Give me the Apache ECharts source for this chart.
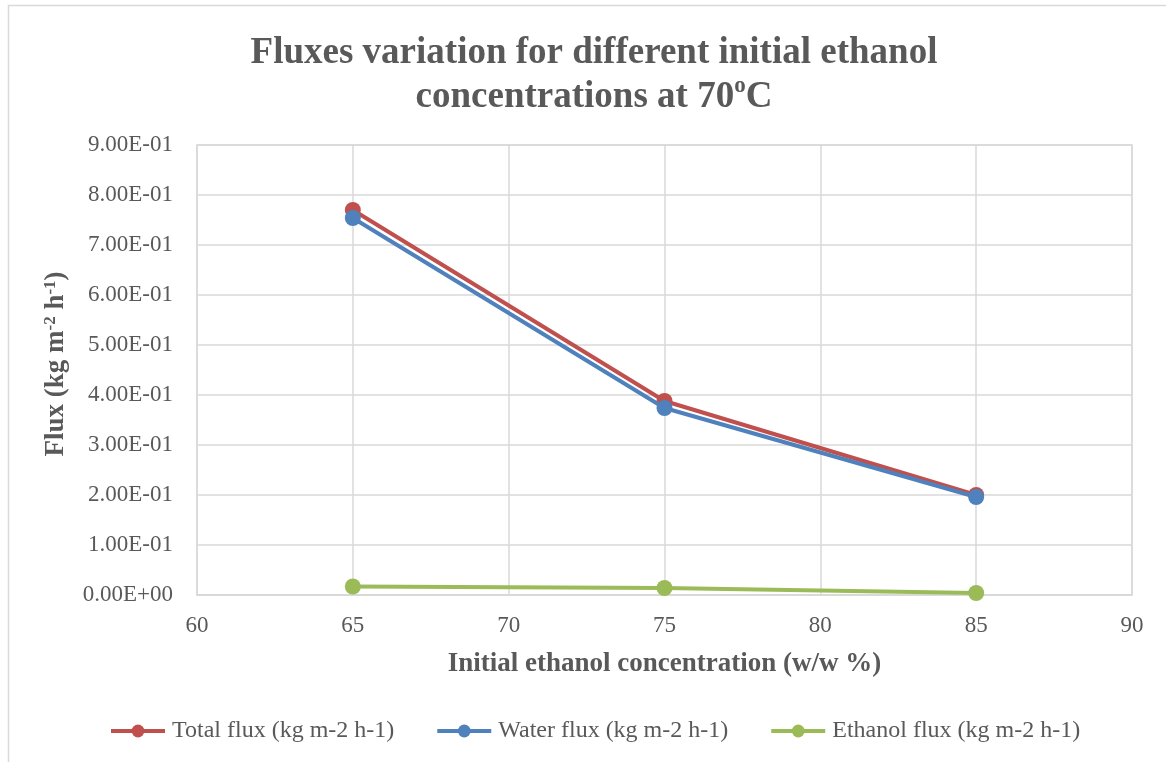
<!DOCTYPE html>
<html>
<head>
<meta charset="utf-8">
<script src="https://cdn.jsdelivr.net/npm/echarts@6/dist/echarts.min.js"></script>
<style>
  html, body { margin: 0; padding: 0; background: #fff; }
  #chart { width: 1166px; height: 762px; }
</style>
</head>
<body>
<div id="chart"></div>
<script>
// Initial ethanol concentration (w/w %)
const concentrations = [65, 75, 85];
// Fluxes in kg m-2 h-1
const totalFlux = [0.770, 0.388, 0.200];
const waterFlux = [0.754, 0.374, 0.196];
const ethanolFlux = [0.017, 0.014, 0.004];
const seriesNames = ['Total flux (kg m-2 h-1)', 'Water flux (kg m-2 h-1)', 'Ethanol flux (kg m-2 h-1)'];
const colors = ['#C0504D', '#4F81BD', '#9BBB59'];

const FONT = '"Liberation Serif", "Times New Roman", serif';
const TEXT = '#595959';
const GRID = '#d9d9d9';

function pairs(vals) {
  return concentrations.map((c, i) => [c, vals[i]]);
}

function makeSeries(name, vals, color, z) {
  return {
    name: name,
    type: 'line',
    data: pairs(vals),
    symbol: 'circle',
    symbolSize: 16,
    z: z,
    lineStyle: { width: 4, color: color },
    itemStyle: { color: color },
    emphasis: { disabled: true }
  };
}

// Excel-style scientific notation, e.g. 7.00E-01
function sci(v) {
  if (v === 0) return '0.00E+00';
  const e = Math.floor(Math.log10(v) + 1e-9);
  const m = v / Math.pow(10, e);
  const sign = e < 0 ? '-' : '+';
  const ae = Math.abs(e);
  return m.toFixed(2) + 'E' + sign + (ae < 10 ? '0' + ae : ae);
}

const chart = echarts.init(document.getElementById('chart'));
chart.setOption({
  animation: false,
  color: colors,
  textStyle: { fontFamily: FONT },
  graphic: [{
    type: 'rect',
    shape: { x: 8.5, y: 5.5, width: 1200, height: 800 },
    style: { fill: 'none', stroke: GRID, lineWidth: 1.5 },
    silent: true,
    z: -1
  }],
  title: {
    text: 'Fluxes variation for different initial ethanol\nconcentrations at 70{sup|o}C',
    left: 589,
    textAlign: 'center',
    top: 26,
    textStyle: {
      fontFamily: FONT,
      fontSize: 37,
      fontWeight: 'bold',
      color: TEXT,
      lineHeight: 44,
      rich: {
        sup: {
          fontFamily: FONT,
          fontSize: 23,
          fontWeight: 'bold',
          color: TEXT,
          verticalAlign: 'top',
          padding: [0, 0, 15, 0]
        }
      }
    }
  },
  legend: {
    top: 714,
    left: 104,
    itemGap: 41,
    itemWidth: 54,
    itemHeight: 16,
    data: seriesNames,
    lineStyle: { width: 4 },
    textStyle: { fontFamily: FONT, fontSize: 24, color: TEXT, padding: [0, 0, 0, 2] }
  },
  grid: {
    left: 197,
    right: 34,
    top: 145,
    bottom: 167,
    show: true,
    borderColor: GRID,
    borderWidth: 1.5
  },
  xAxis: {
    type: 'value',
    min: 60,
    max: 90,
    interval: 5,
    name: 'Initial ethanol concentration (w/w %)',
    nameLocation: 'middle',
    nameGap: 56,
    nameTextStyle: { fontFamily: FONT, fontSize: 27, fontWeight: 'bold', color: TEXT },
    axisLine: { show: true, lineStyle: { color: GRID, width: 1.5 } },
    axisTick: { show: false },
    axisLabel: { fontFamily: FONT, fontSize: 23, color: TEXT, margin: 19 },
    splitLine: { show: true, lineStyle: { color: GRID, width: 1.5 } }
  },
  yAxis: {
    type: 'value',
    min: 0,
    max: 0.9,
    interval: 0.1,
    name: 'Flux (kg m{sup|-2} h{sup|-1})',
    nameLocation: 'middle',
    nameGap: 127,
    nameRotate: 90,
    nameTextStyle: {
      fontFamily: FONT, fontSize: 27, fontWeight: 'bold', color: TEXT,
      padding: [0, 0, 0, 12],
      rich: {
        sup: {
          fontFamily: FONT, fontSize: 17, fontWeight: 'bold', color: TEXT,
          verticalAlign: 'top', padding: [0, 0, 11, 0]
        }
      }
    },
    axisLine: { show: false },
    axisTick: { show: false },
    axisLabel: {
      fontFamily: FONT, fontSize: 23, color: TEXT, margin: 24,
      formatter: sci
    },
    splitLine: { show: true, lineStyle: { color: GRID, width: 1.5 } }
  },
  series: [
    makeSeries(seriesNames[0], totalFlux, colors[0], 2),
    makeSeries(seriesNames[1], waterFlux, colors[1], 3),
    makeSeries(seriesNames[2], ethanolFlux, colors[2], 4)
  ]
});
</script>
</body>
</html>
